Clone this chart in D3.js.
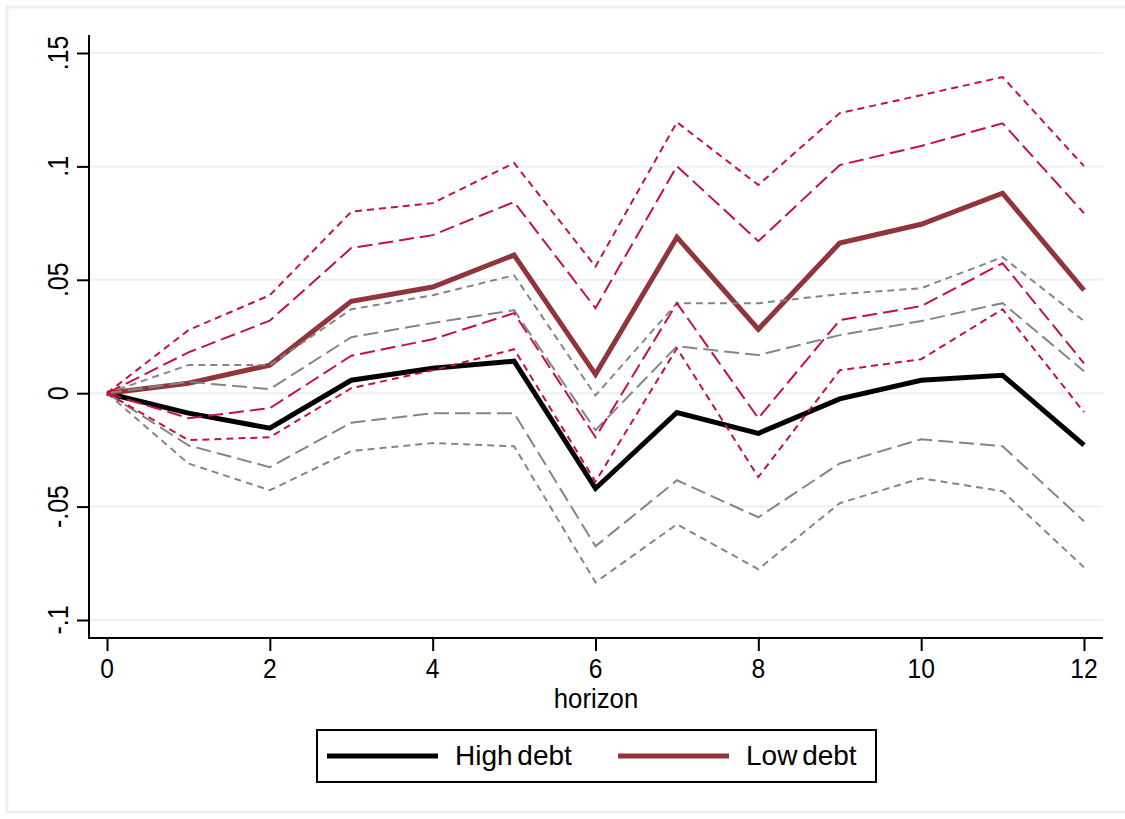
<!DOCTYPE html>
<html>
<head>
<meta charset="utf-8">
<script src="https://cdn.jsdelivr.net/npm/d3@7"></script>
<style>
    body { margin: 0; background: #ffffff; }
    text { font-family: "Liberation Sans", Arial, sans-serif; fill: #000000; }
</style>
</head>
<body>
<div class="chart"></div>
<script>
//Data
var horizon = [0, 1, 2, 3, 4, 5, 6, 7, 8, 9, 10, 11, 12];
var highDebt = [0, -0.0088, -0.0154, 0.0057, 0.011, 0.0141, -0.042, -0.0085, -0.0177, -0.0025, 0.0057, 0.0079, -0.0229];
var lowDebt = [0, 0.0044, 0.0124, 0.0405, 0.0468, 0.0609, 0.0083, 0.0688, 0.0282, 0.0662, 0.0745, 0.0882, 0.0454];

//Confidence bands, high debt (grey)
var highUpper95 = [0, 0.0124, 0.0124, 0.037, 0.0432, 0.052, -0.001, 0.0397, 0.0397, 0.0437, 0.0463, 0.060, 0.0318];
var highUpper90 = [0, 0.005, 0.0018, 0.0247, 0.031, 0.0366, -0.0163, 0.0207, 0.0168, 0.0256, 0.0318, 0.0397, 0.0097];
var highLower90 = [0, -0.023, -0.0326, -0.013, -0.0088, -0.0088, -0.0675, -0.0384, -0.0547, -0.031, -0.0203, -0.0234, -0.0565];
var highLower95 = [0, -0.031, -0.0428, -0.0255, -0.022, -0.0234, -0.0834, -0.0578, -0.0776, -0.0485, -0.0375, -0.0432, -0.0768];

//Confidence bands, low debt (red)
var lowUpper95 = [0, 0.0278, 0.0432, 0.080, 0.0838, 0.1015, 0.0558, 0.1195, 0.0918, 0.1235, 0.1314, 0.1394, 0.1001];
var lowUpper90 = [0, 0.018, 0.032, 0.064, 0.0697, 0.0843, 0.0375, 0.1001, 0.067, 0.1006, 0.109, 0.119, 0.0794];
var lowLower90 = [0, -0.011, -0.0066, 0.0165, 0.0238, 0.0353, -0.0194, 0.0397, -0.011, 0.0322, 0.0384, 0.0573, 0.0132];
var lowLower95 = [0, -0.0207, -0.0194, 0.0022, 0.0101, 0.0194, -0.039, 0.0198, -0.037, 0.0101, 0.015, 0.037, -0.0084];

var yTicks = [-0.1, -0.05, 0, 0.05, 0.1, 0.15];
var yTickLabels = ["-.1", "-.05", "0", ".05", ".1", ".15"];
var xTicks = [0, 2, 4, 6, 8, 10, 12];
var legendLabels = ["High debt", "Low debt"];

var width = 1125;
var height = 819;

//Scales
var x = d3.scaleLinear().domain([0, 12]).range([107, 1084]);
var y = d3.scaleLinear().domain([-0.1, 0.15]).range([620, 53]);

var svg = d3.select(".chart")
    .append("svg")
    .attr("width", width)
    .attr("height", height);

//Outer frame
svg.append("rect")
    .attr("x", 7)
    .attr("y", 7)
    .attr("width", 1130)
    .attr("height", 805)
    .attr("fill", "#ffffff")
    .attr("stroke", "#eaf1f3")
    .attr("stroke-width", 3);

//Narrowed text, like Stata's
function label(parent, px, py, str, anchor, rotate, size, squeeze) {
    return parent.append("text")
        .attr("transform", "translate(" + px + "," + py + ")" + (rotate ? " rotate(-90)" : "") + " scale(" + squeeze + ",1)")
        .attr("text-anchor", anchor)
        .style("font-size", size + "px")
        .text(str);
}

//Gridlines
svg.selectAll("line.grid")
    .data(yTicks)
    .enter()
    .append("line")
    .attr("class", "grid")
    .attr("x1", 90)
    .attr("x2", 1103)
    .attr("y1", d => y(d))
    .attr("y2", d => y(d))
    .style("stroke", "#eaf1f3")
    .style("stroke-width", "2px");

//Y axis
var yAxis = svg.append("g")
    .attr("transform", "translate(89,0)")
    .call(d3.axisLeft(y).tickValues(yTicks).tickSize(12).tickFormat(""));
yAxis.select(".domain").attr("d", "M0,35V639");
yAxis.selectAll("path, line").style("stroke", "#000").style("stroke-width", "2px");

yTicks.forEach((t, i) => label(svg, 68, y(t), yTickLabels[i], "middle", true, 29, 0.86));

//X axis
var xAxis = svg.append("g")
    .attr("transform", "translate(0,638)")
    .call(d3.axisBottom(x).tickValues(xTicks).tickSize(13).tickFormat(""));
xAxis.select(".domain").attr("d", "M88,0H1103");
xAxis.selectAll("path, line").style("stroke", "#000").style("stroke-width", "2px");

xTicks.forEach(t => label(svg, x(t), 678, String(t), "middle", false, 28, 0.88));
label(svg, 596, 708, "horizon", "middle", false, 28, 0.92);

//Lines
var line = d3.line()
    .x((d, i) => x(horizon[i]))
    .y(d => y(d));

function drawSeries(values, color, widthPx, dash) {
    svg.append("path")
        .datum(values)
        .attr("d", line)
        .attr("fill", "none")
        .style("stroke", color)
        .style("stroke-width", widthPx)
        .style("stroke-dasharray", dash)
        .style("stroke-linejoin", "miter");
}

var grey = "#858585";
var red = "#c8103f";
var shortDash = "7,5";
var longDash = "15,6";

drawSeries(highDebt, "#000000", "5px", null);
drawSeries(lowDebt, "#90353b", "5px", null);

drawSeries(highUpper95, grey, "2px", shortDash);
drawSeries(highLower95, grey, "2px", shortDash);
drawSeries(highUpper90, grey, "2px", longDash);
drawSeries(highLower90, grey, "2px", longDash);

drawSeries(lowUpper95, red, "2px", shortDash);
drawSeries(lowLower95, red, "2px", shortDash);
drawSeries(lowUpper90, red, "2px", longDash);
drawSeries(lowLower90, red, "2px", longDash);

//Legend
var legend = svg.append("g");
legend.append("rect")
    .attr("x", 317)
    .attr("y", 730)
    .attr("width", 559)
    .attr("height", 52)
    .attr("fill", "#ffffff")
    .attr("stroke", "#000")
    .attr("stroke-width", 2);

var legendColors = ["#000000", "#90353b"];
var legendX = [327, 618];
legendLabels.forEach((name, i) => {
    legend.append("line")
        .attr("x1", legendX[i])
        .attr("x2", legendX[i] + 111)
        .attr("y1", 756)
        .attr("y2", 756)
        .style("stroke", legendColors[i])
        .style("stroke-width", "5px");
    label(legend, legendX[i] + 128, 765, name, "start", false, 28, 1.0)
        .style("word-spacing", "-3px");
});
</script>
</body>
</html>
